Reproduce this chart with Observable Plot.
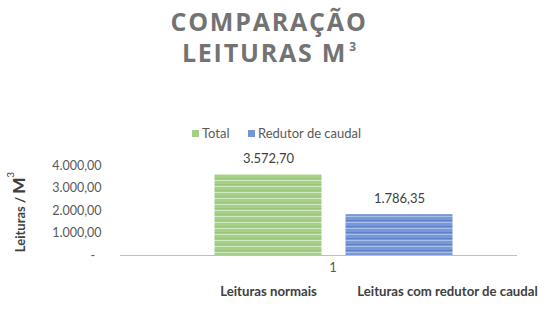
<!DOCTYPE html>
<html>
<head>
<meta charset="utf-8">
<script src="https://cdn.jsdelivr.net/npm/d3@7"></script>
<script src="https://cdn.jsdelivr.net/npm/@observablehq/plot@0.6"></script>
<style>
  html, body { margin: 0; padding: 0; background: #fff; }
  #wrap { position: relative; width: 545px; height: 319px; overflow: hidden; font-family: Lato, "Open Sans", sans-serif; }
  #wrap svg { position: absolute; left: 0; top: 0; }
  .title { position: absolute; left: 0; width: 538px; text-align: center; font-family: "Open Sans", sans-serif; font-weight: 700; font-size: 25px; letter-spacing: 1.8px; color: #737373; line-height: 1; }
  .title sup { font-size: 12px; vertical-align: 0; position: relative; top: -11px; letter-spacing: 0; margin-left: 2px; }
  .legend { position: absolute; top: 125px; left: 0; width: 545px; font-size: 13px; color: #595959; }
  .legend span.item { position: absolute; white-space: nowrap; }
  .legend i { display: inline-block; width: 7px; height: 7px; margin-right: 3px; vertical-align: 1px; }
  .ylab { position: absolute; left: 18px; top: 212px; transform: translate(-50%, -50%) rotate(-90deg); white-space: nowrap; font-weight: 700; font-size: 13px; color: #404040; }
  .ylab b { font-size: 17px; }
  .ylab sup { font-size: 10px; font-weight: 400; position: relative; top: -4px; vertical-align: top; }
</style>
</head>
<body>
<div id="wrap"></div>
<script>
// ---- data ----
const series = ["Total", "Redutor de caudal"];
const values = [3572.70, 1786.35];
const categoryLabels = ["Leituras normais", "Leituras com redutor de caudal"];
const groupLabel = ["1"];
const yTicks = [0, 1000, 2000, 3000, 4000];
const seriesColors = ["#a3cf86", "#7496d8"];

const data = series.map((s, i) => ({series: s, value: values[i], label: categoryLabels[i]}));

const pt = d3.formatLocale({decimal: ",", thousands: ".", grouping: [3], currency: ["", " €"]});
const fmt = pt.format(",.2f");
const tickFmt = v => v === 0 ? "-\u00a0\u00a0" : fmt(v);

const plot = Plot.plot({
  width: 545,
  height: 319,
  marginTop: 165,
  marginBottom: 64,
  marginLeft: 120,
  marginRight: 28,
  style: {fontFamily: "Lato, 'Open Sans', sans-serif", fontSize: "12.5px", color: "#595959", background: "transparent"},
  x: {domain: series, range: [190, 477], padding: 0.19, axis: null},
  y: {domain: [0, 4000], axis: null},
  color: {domain: series, range: ["url(#gstripe)", "url(#bstripe)"]},
  marks: [
    Plot.axisY({ticks: yTicks, tickFormat: tickFmt, tickSize: 0, tickPadding: 19, fontSize: 12.5, fill: "#595959", label: null}),
    Plot.barY(data, {x: "series", y: "value", fill: "series", stroke: (d) => d.series, strokeWidth: 1}),
    Plot.ruleY([0], {stroke: "#bfbfbf", strokeWidth: 1.2}),
    Plot.text(data, {x: "series", y: "value", text: d => fmt(d.value), dy: -16, fontSize: 13, fill: "#404040"}),
    Plot.text(groupLabel, {frameAnchor: "bottom", dx: 14, dy: 16, fontSize: 13, fill: "#595959"}),
    Plot.text(data.slice(0, 1), {x: "series", text: "label", frameAnchor: "bottom", dy: 40, fontSize: 13.2, fontWeight: 700, fill: "#404040"}),
    Plot.text(data.slice(1), {x: "series", text: "label", frameAnchor: "bottom", dx: 48, dy: 40, fontSize: 13.2, fontWeight: 700, fill: "#404040"})
  ]
});

// patterns + stroke colours
const ns = "http://www.w3.org/2000/svg";
const defs = document.createElementNS(ns, "defs");
defs.innerHTML = `
  <pattern id="gstripe" patternUnits="userSpaceOnUse" width="8" height="6">
    <rect width="8" height="6" fill="#a6d08a"/>
    <rect y="0" width="8" height="1" fill="#d0e8bf"/>
    <rect y="4" width="8" height="1" fill="#98c57a"/>
  </pattern>
  <pattern id="bstripe" patternUnits="userSpaceOnUse" width="8" height="6">
    <rect width="8" height="6" fill="#7898d8"/>
    <rect y="0" width="8" height="1" fill="#a9bfe9"/>
    <rect y="4" width="8" height="1" fill="#5d82cc"/>
  </pattern>`;
plot.insertBefore(defs, plot.firstChild);
plot.querySelectorAll("rect").forEach(r => {
  const s = r.getAttribute("stroke");
  if (s === "Total") r.setAttribute("stroke", "#86b96a");
  if (s === "Redutor de caudal") r.setAttribute("stroke", "#5078c6");
});

const wrap = document.getElementById("wrap");
wrap.appendChild(plot);

const t1 = document.createElement("div");
t1.className = "title"; t1.style.top = "9px"; t1.textContent = "COMPARAÇÃO";
const t2 = document.createElement("div");
t2.className = "title"; t2.style.top = "40px"; t2.innerHTML = "LEITURAS M<sup>3</sup>";
wrap.appendChild(t1); wrap.appendChild(t2);

const leg = document.createElement("div");
leg.className = "legend";
const legPos = [192, 248];
series.forEach((s, i) => {
  const it = document.createElement("span");
  it.className = "item";
  it.style.left = legPos[i] + "px";
  it.innerHTML = `<i style="background:${seriesColors[i]}"></i>${s}`;
  leg.appendChild(it);
});
wrap.appendChild(leg);

const yl = document.createElement("div");
yl.className = "ylab";
yl.innerHTML = "Leituras / <b>M</b><sup>3</sup>";
wrap.appendChild(yl);
</script>
</body>
</html>
